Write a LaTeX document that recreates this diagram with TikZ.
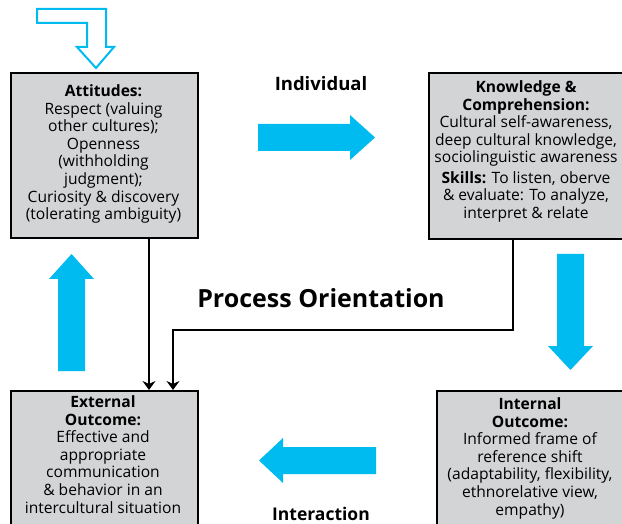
\documentclass[tikz,border=0pt]{standalone}
\usepackage{fontspec}
\setmainfont{Open Sans}
\usetikzlibrary{arrows.meta}
\definecolor{cy}{RGB}{0,187,240}
\definecolor{bx}{RGB}{211,212,214}
\begin{document}
\begin{tikzpicture}[x=1pt,y=-1pt,
  box/.style={draw=black,line width=2pt,fill=bx,inner sep=0pt,anchor=north west},
  txt/.style={align=center,inner sep=0pt,anchor=north,font=\fontsize{15.6}{17.6}\selectfont},
  lbl/.style={font=\bfseries\fontsize{18.5}{21}\selectfont,inner sep=0pt},
  conn/.style={line width=1.8pt,-{Stealth[length=9pt,width=13pt,inset=3pt]}},
  bigarrow/.style={fill=cy,draw=none},
  outarrow/.style={draw=cy,line width=2pt,fill=white,line join=miter}]
\useasboundingbox (0,0) rectangle (622,524);
\clip (0,0) rectangle (622,524);

% boxes
\node[box,minimum width=187pt,minimum height=165pt] (att) at (10,72) {};
\node[box,minimum width=195pt,minimum height=166pt] (know) at (428,72) {};
\node[box,minimum width=187pt,minimum height=150pt] (ext) at (10,390) {};
\node[box,minimum width=190pt,minimum height=150pt] (int) at (436,390) {};

% texts
\node[txt] (attT) at (103.5,84.5) {\textbf{Attitudes:}\\Respect (valuing\\other cultures);\\Openness\\(withholding\\judgment);\\Curiosity \& discovery\\(tolerating ambiguity)};
\node[txt] (knowT) at (526,80.5) {\textbf{Knowledge \&}\\\textbf{Comprehension:}\\Cultural self-awareness,\\deep cultural knowledge,\\sociolinguistic awareness\\[2.5pt]\textbf{Skills:} To listen, oberve\\\& evaluate: To analyze,\\interpret \& relate};
\node[txt] (extT) at (103,395.5) {\textbf{External}\\\textbf{Outcome:}\\Effective and\\appropriate\\communication\\\& behavior in an\\intercultural situation};
\node[txt] (intT) at (530,397.5) {\textbf{Internal}\\\textbf{Outcome:}\\Informed frame of\\reference shift\\(adaptability, flexibility,\\ethnorelative view,\\empathy)};

% labels
\node[lbl] (ind) at (321,84) {Individual};
\node[lbl,font=\bfseries\fontsize{25}{29}\selectfont] (po) at (321,298) {Process Orientation};
\node[lbl,font=\bfseries\fontsize{17.5}{21}\selectfont] (inter) at (321,514) {Interaction};

% big cyan arrows
\fill[bigarrow] (258,124) -- (350,124) -- (350,115) -- (375,137.5) -- (350,160) -- (350,151) -- (258,151) -- cycle;
\fill[bigarrow] (557,254) -- (584,254) -- (584,346) -- (593,346) -- (570.5,370) -- (548,346) -- (557,346) -- cycle;
\fill[bigarrow] (58,371) -- (58,279) -- (49,279) -- (71.5,254) -- (94,279) -- (85,279) -- (85,371) -- cycle;
\fill[bigarrow] (376,447) -- (283,447) -- (283,438) -- (259,460.5) -- (283,483) -- (283,474) -- (376,474) -- cycle;

% outline arrow at top
\draw[outarrow] (37,9) -- (106,9) -- (106,47) -- (114,47) -- (96,68) -- (77,47) -- (87,47) -- (87,23) -- (37,23) -- cycle;

% connectors
\coordinate (xa) at (149,0);
\coordinate (xb) at (173,0);
\coordinate (xk) at (513,330);
\draw[conn] (att.south -| xa) -- (ext.north -| xa);
\draw[conn] (know.south -| xk) -- (xk) -- (xk -| xb) -- (ext.north -| xb);
\end{tikzpicture}
\end{document}
